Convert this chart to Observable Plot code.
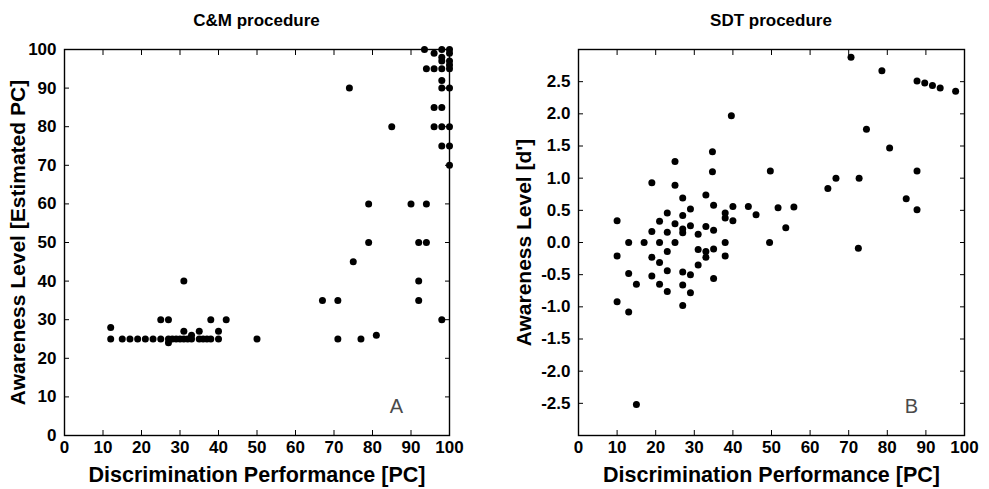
<!DOCTYPE html>
<html>
<head>
<meta charset="utf-8">
<script src="https://cdn.jsdelivr.net/npm/d3@7"></script>
<script src="https://cdn.jsdelivr.net/npm/@observablehq/plot@0.6"></script>
<style>
  html, body { margin: 0; padding: 0; background: #fff; }
  #wrap { position: relative; width: 989px; height: 489px; font-family: "Liberation Sans", Arial, Helvetica, sans-serif; }
  .title { position: absolute; top: 11px; font-weight: bold; font-size: 17px; text-align: center; color: #000; z-index: 2; }
  .panel { position: absolute; top: 0px; }
</style>
</head>
<body>
<div id="wrap">
  <div class="panel" id="pA" style="left:0px;"></div>
  <div class="panel" id="pB" style="left:494px;"></div>
  <div class="title" id="tA" style="left:64px;width:385px;"></div>
  <div class="title" id="tB" style="left:578px;width:386px;"></div>
</div>
<script>
// ---- Data ----
const titles = ["C&M procedure", "SDT procedure"];
const xLabel = "Discrimination Performance [PC]";
const yLabelA = "Awareness Level [Estimated PC]";
const yLabelB = "Awareness Level [d']";
const panelTags = ["A", "B"];

const xTicks = [0, 10, 20, 30, 40, 50, 60, 70, 80, 90, 100];
const yTicksA = [0, 10, 20, 30, 40, 50, 60, 70, 80, 90, 100];
const yTicksB = [-2.5, -2.0, -1.5, -1.0, -0.5, 0.0, 0.5, 1.0, 1.5, 2.0, 2.5];

// Panel A: C&M procedure
const cmX = [12,15,17,19,21,23,25,27,28,29,30,31,32,33,35,36,37,38,40,50,71,77,
  27,12,31,33,35,40,25,27,38,42,31,
  81,67,71,92,98,92,75,79,92,94,79,90,94,100,98,100,85,96,98,100,96,98,98,100,74,98,
  94,96,98,100,93.5,96,98,98,98,100,100,100,100];
const cmY = [25,25,25,25,25,25,25,25,25,25,25,25,25,25,25,25,25,25,25,25,25,25,
  24,28,27,26,27,27,30,30,30,30,40,
  26,35,35,35,30,40,45,50,50,50,60,60,60,70,75,75,80,80,80,80,85,85,90,90,90,92,
  95,95,95,95,100,99,100,98,97,100,99,97,96];

// Panel B: SDT procedure
const sdtX = [19,25,27,33,29,35,40,44,46,38,38,40,10,23,27,21,25,29,33,27,27,19,23,31,35,
  13,17,21,25,38,49.5,23,31,33,33,35,38,10,19,21,31,13,23,27,29,19,35,15,21,27,23,29,10,27,13,15,
  70.6,78.6,87.7,89.7,91.7,93.7,97.7,39.6,74.6,34.7,80.6,34.7,49.7,87.7,66.7,72.7,64.6,84.9,
  51.7,55.8,53.7,87.7,72.5,25];
const sdtY = [0.93,0.89,0.69,0.74,0.52,0.58,0.56,0.56,0.43,0.46,0.38,0.34,0.34,0.46,0.42,0.33,0.29,0.26,0.25,0.21,0.15,0.17,0.16,0.13,0.19,
  0,0,0,0,0,0,-0.14,-0.11,-0.14,-0.23,-0.10,-0.21,-0.21,-0.23,-0.31,-0.35,-0.48,-0.44,-0.46,-0.50,-0.52,-0.56,-0.65,-0.65,-0.66,-0.76,-0.78,-0.92,-0.98,-1.08,-2.52,
  2.88,2.67,2.51,2.48,2.44,2.40,2.35,1.97,1.76,1.41,1.47,1.10,1.11,1.11,1.00,1.00,0.84,0.68,
  0.54,0.55,0.23,0.51,-0.09,1.26];

// ---- Chart ----
const FONT = "Liberation Sans, Arial, Helvetica, sans-serif";

function panel({xs, ys, yDomain, yTicks, yFmt, yLabel, yLabelDx, tag, width, marginLeft, marginRight}) {
  const data = xs.map((x, i) => ({x, y: ys[i]}));
  return Plot.plot({
    width, height: 489,
    marginLeft, marginRight, marginTop: 49, marginBottom: 54,
    style: {fontFamily: FONT, fontSize: "17px", fontWeight: "bold", color: "#000", background: "transparent", overflow: "visible"},
    x: {domain: [0, 100]},
    y: {domain: yDomain},
    marks: [
      Plot.axisX(xTicks, {anchor: "bottom", tickSize: -5, tickPadding: 10, label: null, fontSize: 17, fontWeight: "bold"}),
      Plot.axisX(xTicks, {anchor: "top", tickSize: -5, tickFormat: () => "", label: null}),
      Plot.axisY(yTicks, {anchor: "left", tickSize: -5, tickPadding: 13, tickFormat: yFmt, label: null, fontSize: 17, fontWeight: "bold"}),
      Plot.axisY(yTicks, {anchor: "right", tickSize: -5, tickFormat: () => "", label: null}),
      Plot.frame({stroke: "#000", strokeWidth: 1.4}),
      Plot.dot(data, {x: "x", y: "y", r: 3.5, fill: "#000", stroke: null}),
      Plot.text([xLabel], {frameAnchor: "bottom", textAnchor: "middle", dy: 46, fontSize: 21.5, fontWeight: "bold", fill: "#000"}),
      Plot.text([yLabel], {frameAnchor: "left", textAnchor: "middle", dx: yLabelDx, rotate: -90, fontSize: 21, fontWeight: "bold", fill: "#000"}),
      Plot.text([tag], {frameAnchor: "bottom-right", textAnchor: "middle", dx: -53, dy: -23, fontSize: 20, fontWeight: "normal", fill: "#4a4a4a"})
    ]
  });
}

document.getElementById("tA").textContent = titles[0];
document.getElementById("tB").textContent = titles[1];

document.getElementById("pA").appendChild(panel({
  xs: cmX, ys: cmY, yDomain: [0, 100], yTicks: yTicksA, yFmt: d => String(d),
  yLabel: yLabelA, yLabelDx: -46, tag: panelTags[0], width: 494, marginLeft: 64, marginRight: 45
}));
document.getElementById("pB").appendChild(panel({
  xs: sdtX, ys: sdtY, yDomain: [-3, 3], yTicks: yTicksB, yFmt: d => d.toFixed(1),
  yLabel: yLabelB, yLabelDx: -54, tag: panelTags[1], width: 495, marginLeft: 84, marginRight: 25
}));
</script>
</body>
</html>
